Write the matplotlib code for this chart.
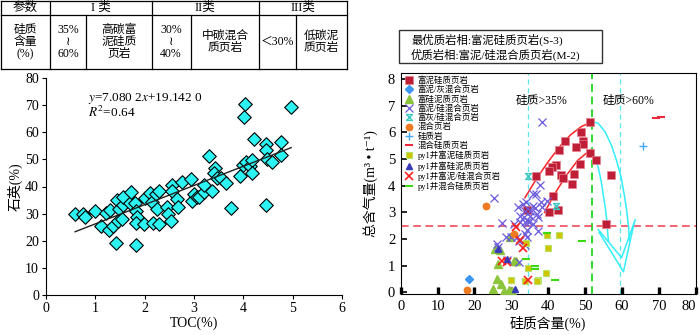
import matplotlib
matplotlib.use("Agg")
import matplotlib.pyplot as plt
from matplotlib.path import Path
from matplotlib.patches import Rectangle
import numpy as np

plt.rcParams['font.family'] = ['Liberation Serif', 'Noto Sans CJK SC', 'DejaVu Sans']
plt.rcParams['mathtext.fontset'] = 'stix'

# ---- left: TOC vs quartz ----
toc = [0.59, 0.75, 0.79, 0.99, 1.12, 1.21, 1.30, 1.27, 1.36, 1.41, 1.45, 1.44, 1.47, 1.54,
       1.56, 1.57, 1.70, 1.72, 1.80, 1.83, 1.84, 1.83, 1.83, 1.98, 2.01, 2.10, 2.14, 2.17,
       2.22, 2.25, 2.30, 2.30, 2.45, 2.47, 2.53, 2.55, 2.56, 2.66, 2.67, 2.76, 2.93, 2.96,
       2.99, 3.06, 3.11, 3.21, 3.21, 3.30, 3.36, 3.43, 3.40, 3.47, 3.55, 3.64, 3.76, 3.94,
       3.99, 4.01, 4.04, 4.06, 4.13, 4.18, 4.18, 4.22, 4.45, 4.46, 4.48, 4.46, 4.58, 4.77,
       4.77, 4.97]
quartz = [29.9, 29.9, 28.6, 30.8, 25.6, 30.4, 31.4, 23.8, 25.5, 19.1, 27.1, 35.1, 31.6, 27.9,
          33.2, 36.3, 33.8, 37.8, 33.8, 30.8, 28.6, 26.5, 18.5, 26.2, 35.6, 37.5, 34.3, 26.7,
          37.3, 31.6, 38.2, 26.2, 32.4, 29.9, 27.4, 40.6, 38.2, 35.3, 32.6, 41.7, 42.7, 34.7,
          37.3, 36.1, 36.1, 37.8, 40.6, 51.4, 38.2, 47.0, 44.9, 43.3, 43.1, 41.2, 32.2, 43.7,
          48.0, 65.8, 70.5, 48.9, 47.4, 49.8, 44.9, 57.5, 55.6, 53.5, 50.1, 33.2, 48.9, 56.5,
          51.7, 69.2]
fit_slope = 7.0802
fit_intercept = 19.142

# ---- right: silica vs gas content ----
s1_x = [51.3, 48.8, 44.6, 49.5, 49.5, 47.5, 43.0, 42.1, 41.1, 40.3, 43.5, 44.1, 47.0, 48.6,
        46.5, 36.7, 41.2, 51.3, 52.9, 57.0, 42.6, 40.2, 55.6, 34.2]
s1_y = [6.40, 6.00, 5.69, 5.69, 5.56, 5.44, 5.35, 4.77, 4.70, 4.55, 4.42, 4.27, 4.45, 4.82,
        4.08, 4.36, 3.62, 5.22, 4.95, 4.39, 3.09, 3.00, 2.57, 3.10]
s2_x = [18.5]
s2_y = [0.50]
s3_x = [25.7, 26.9, 26.5, 26.0, 24.9, 27.1, 28.1, 29.4, 29.7, 30.3, 29.7, 30.6, 31.2]
s3_y = [1.64, 1.57, 1.08, 0.50, 0.13, 0.30, 0.04, 0.09, -0.02, 0.06, 2.07, 1.16, 1.16]
s4_x = [38.2, 25.4, 37.8, 35.8, 36.7, 38.1, 31.9, 33.3, 33.9, 36.4, 35.8, 38.2, 35.1, 33.7,
        32.4, 33.5, 35.1, 36.9, 37.3, 34.4, 33.6, 32.4, 30.6, 27.4, 34.2, 33.7, 34.2, 37.3,
        31.6, 29.9, 28.6, 32.4, 33.7, 26.0, 26.3, 28.7, 32.2, 34.9, 35.9, 39.6, 32.1]
s4_y = [6.40, 3.52, 4.03, 3.70, 3.70, 3.37, 3.21, 3.33, 3.37, 3.18, 3.25, 3.21, 3.06, 3.06,
        2.87, 2.81, 2.87, 2.94, 2.81, 2.69, 2.63, 2.63, 2.57, 2.59, 2.32, 2.19, 2.07, 2.29,
        2.09, 2.07, 2.07, 1.95, 1.76, 1.80, 1.70, 1.20, 1.91, 2.63, 2.57, 3.41, 1.14]
s5_x = [34.4, 42.1]
s5_y = [4.36, 3.25]
s6_x = [23.1, 17.9, 30.6]
s6_y = [3.25, 0.10, 2.20]
s7_x = [65.8]
s7_y = [5.50]
s8_x = [69.2, 70.6]
s8_y = [6.55, 6.57]
s9_x = [39.8, 42.9, 39.9, 34.0, 34.6, 39.4, 37.3, 36.9, 29.8, 33.7]
s9_y = [2.16, 2.14, 1.66, 1.85, 0.90, 0.71, 0.45, 0.43, 0.46, 0.42]
s10_x = [26.3, 28.8, 31.0]
s10_y = [1.62, 1.25, 0.11]
s11_x = [31.2, 33.2, 27.6, 28.9, 34.6, 32.3]
s11_y = [2.46, 1.68, 1.16, 1.12, 0.48, 1.95]
s12_x = [39.6, 34.0, 36.4, 36.4, 41.9, 49.2]
s12_y = [2.22, 1.26, 0.98, 0.86, 0.45, 1.92]

labels = ['富泥硅质页岩', '富泥/灰混合页岩', '富硅泥质页岩', '富泥/硅混合页岩', '富灰/硅混合页岩',
          '混合页岩', '硅质岩', '混合硅质页岩', 'py1井富泥硅质页岩', 'py1井富硅泥质页岩',
          'py1井富泥/硅混合页岩', 'py1井混合硅质页岩']

# trend curves and arrows
red_up_x = [33.7, 37.0, 40.0, 43.0, 46.0, 49.0, 52.0]
red_up_y = [3.55, 4.30, 4.90, 5.45, 5.90, 6.22, 6.40]
red_lo_x = [39.0, 42.0, 45.0, 48.0, 51.5]
red_lo_y = [3.00, 3.75, 4.40, 4.95, 5.35]
cyan_out_x = [51.8, 53.5, 55.4, 57.2, 58.6, 59.8, 60.6, 61.3, 61.8, 62.0]
cyan_out_y = [6.40, 6.35, 6.03, 5.50, 4.92, 4.30, 3.68, 3.05, 2.45, 1.95]
cyan_in_x = [51.5, 52.6, 53.6, 54.4, 54.9, 55.5, 55.9, 56.3]
cyan_in_y = [5.30, 5.10, 4.67, 4.15, 3.68, 3.15, 2.69, 1.94]
head_out_x = [53.8, 60.4, 63.3]
head_out_y = [2.25, 0.77, 2.60]
head_in_x = [53.6, 59.9, 63.6]
head_in_y = [2.35, 1.30, 2.72]

fig = plt.figure(figsize=(7.0, 3.35), dpi=100)

# ---------- table ----------
tl = fig.transFigure
def fx(px): return px / 700.0
def fy(py): return 1 - py / 335.0

col_edges = [1, 50, 86, 152, 191, 259, 296, 347]
for yy in [1, 15, 68.5]:
    fig.add_artist(plt.Line2D([fx(1), fx(347)], [fy(yy), fy(yy)], color='k', lw=0.9, transform=tl))
for xx in col_edges:
    top = 1 if xx in (1, 50, 152, 259, 347) else 15
    fig.add_artist(plt.Line2D([fx(xx), fx(xx)], [fy(top), fy(68.5)], color='k', lw=0.9, transform=tl))

head_txt = ['参数', 'I 类', 'II类', 'III类']
head_pos = [25, 101, 205, 303]
for t, p in zip(head_txt, head_pos):
    fig.text(fx(p), fy(8), t, ha='center', va='center', fontsize=9)
body_txt = ['硅质\n含量\n(%)', '35%\n≀\n60%', '高碳富\n泥硅质\n页岩', '30%\n≀\n40%',
            '中碳混合\n质页岩', '＜30%', '低碳泥\n质页岩']
body_pos = [25, 68, 119, 171, 225, 277.5, 321]
for t, p in zip(body_txt, body_pos):
    fig.text(fx(p), fy(42), t, ha='center', va='center', fontsize=8.5, linespacing=1.05)

# ---------- left scatter ----------
ax1 = fig.add_axes([fx(46), fy(295), fx(342 - 46), (295 - 78) / 335.0])
ax1.scatter(toc, quartz, marker='D', s=48, facecolor='#2CF2F2', edgecolor='k', linewidth=0.8, zorder=3)
xl = np.array([min(toc), max(toc)])
ax1.plot(xl, fit_slope * xl + fit_intercept, color='#222222', lw=1.0, zorder=4)
ax1.text(0.86, 72.5, '$y$=7.080 2$x$+19.142 0', fontsize=9.5, va='center')
ax1.text(0.86, 67.2, '$R^2$=0.64', fontsize=9.5, va='center')
ax1.set_xlim(0, 6)
ax1.set_ylim(0, 80)
ax1.set_xticks(range(0, 7))
ax1.set_yticks(range(0, 81, 10))
ax1.spines['top'].set_visible(False)
ax1.spines['right'].set_visible(False)
ax1.tick_params(direction='out', length=3, width=0.8, labelsize=10, pad=2)
ax1.set_xlabel('TOC(%)', fontsize=10, labelpad=1)
ax1.set_ylabel('石英(%)', fontsize=10, labelpad=2)

# ---------- right scatter ----------
ax2 = fig.add_axes([fx(400.7), fy(294), 295 / 700.0, (294 - 72.7) / 335.0])
ax2.axvline(34.6, color='#5EE6EE', ls=(0, (4, 3)), lw=0.9, zorder=1)
ax2.axvline(59.6, color='#5EE6EE', ls=(0, (4, 3)), lw=0.9, zorder=1)
ax2.axvline(52.0, color='#2EDB2E', ls=(0, (4, 2.5)), lw=1.4, zorder=1)
ax2.axhline(2.5, color='#F03A4A', ls=(0, (5, 3)), lw=1.1, zorder=1)

hour = Path([(-1, 1), (1, 1), (-1, -1), (1, -1), (-1, 1)],
            [Path.MOVETO, Path.LINETO, Path.LINETO, Path.LINETO, Path.CLOSEPOLY])

ax2.plot(s1_x, s1_y, 's', ms=5.2, mfc='#BE1E36', mec='#E8808F', mew=0.5, label=labels[0], zorder=3)
ax2.plot(s2_x, s2_y, 'D', ms=3.8, mfc='#3C96F0', mec='#3C96F0', label=labels[1], zorder=3)
ax2.plot(s3_x, s3_y, '^', ms=5.4, mfc='#8CC43C', mec='#8CC43C', label=labels[2], zorder=3)
ax2.plot(s4_x, s4_y, 'x', ms=5.2, mec='#6A5ADC', mew=0.9, label=labels[3], zorder=3)
ax2.plot(s5_x, s5_y, ls='none', marker=hour, ms=4.2, mfc='none', mec='#3CC8C0', mew=1.0, label=labels[4], zorder=3)
ax2.plot(s6_x, s6_y, 'o', ms=4.6, mfc='#EE7A22', mec='#EE7A22', label=labels[5], zorder=3)
ax2.plot(s7_x, s7_y, '+', ms=5.5, mec='#44A8F0', mew=1.0, label=labels[6], zorder=3)
ax2.plot(s8_x, s8_y, '_', ms=6, mec='#F0283C', mew=1.5, label=labels[7], zorder=3)
ax2.plot(s9_x, s9_y, 's', ms=5.0, mfc='#D0C400', mec='#B4E464', mew=0.8, label=labels[8], zorder=3)
ax2.plot(s10_x, s10_y, '^', ms=4.0, mfc='#3A3AB8', mec='#3A3AB8', label=labels[9], zorder=4)
ax2.plot(s11_x, s11_y, 'x', ms=5.2, mec='#FF2020', mew=1.2, label=labels[10], zorder=3)
ax2.plot(s12_x, s12_y, '_', ms=6, mec='#3ADC10', mew=1.5, label=labels[11], zorder=3)

ax2.plot(red_up_x, red_up_y, color='#FF2424', lw=1.1, zorder=2)
ax2.plot(red_lo_x, red_lo_y, color='#FF2424', lw=1.1, zorder=2)
for cx, cy in [(cyan_out_x, cyan_out_y), (cyan_in_x, cyan_in_y),
               (head_out_x, head_out_y), (head_in_x, head_in_y)]:
    ax2.plot(cx, cy, color='#33EEFA', lw=1.1, zorder=2)

ax2.text(38.2, 7.21, '硅质>35%', fontsize=8.5, ha='center', va='center')
ax2.text(61.7, 7.21, '硅质>60%', fontsize=8.5, ha='center', va='center')

ax2.set_xlim(0, 80)
ax2.set_ylim(-0.064, 8.24)
ax2.set_xticks(range(0, 81, 10))
ax2.set_yticks(range(0, 9))
ax2.tick_params(axis='x', direction='in', length=5, width=2.4, labelsize=10.5, pad=4)
ax2.tick_params(axis='y', direction='in', length=4, width=1.2, labelsize=10.5, pad=4)
ax2.get_xticklabels()[-1].set_horizontalalignment('right')
ax2.set_xlabel('硅质含量(%)', fontsize=10, labelpad=2)
ax2.set_ylabel('总含气量(m³ • t⁻¹)', fontsize=10, labelpad=7)
ax2.legend(loc='upper left', bbox_to_anchor=(0.005, 1.0), frameon=False, fontsize=6.1,
           labelspacing=0.1, handlelength=0.9, handletextpad=0.5, borderpad=0.2,
           borderaxespad=0.2)

# ---------- note box ----------
fig.add_artist(Rectangle((fx(399), fy(63)), fx(203), 33 / 335.0, transform=tl,
                         fill=False, edgecolor='#333333', lw=1.0))
fig.text(fx(411), fy(40), '最优质岩相:富泥硅质页岩(S-3)', fontsize=8.2, va='center')
fig.text(fx(411), fy(55), '优质岩相:富泥/硅混合质页岩(M-2)', fontsize=8.2, va='center')

fig.savefig('out.png', dpi=100)
